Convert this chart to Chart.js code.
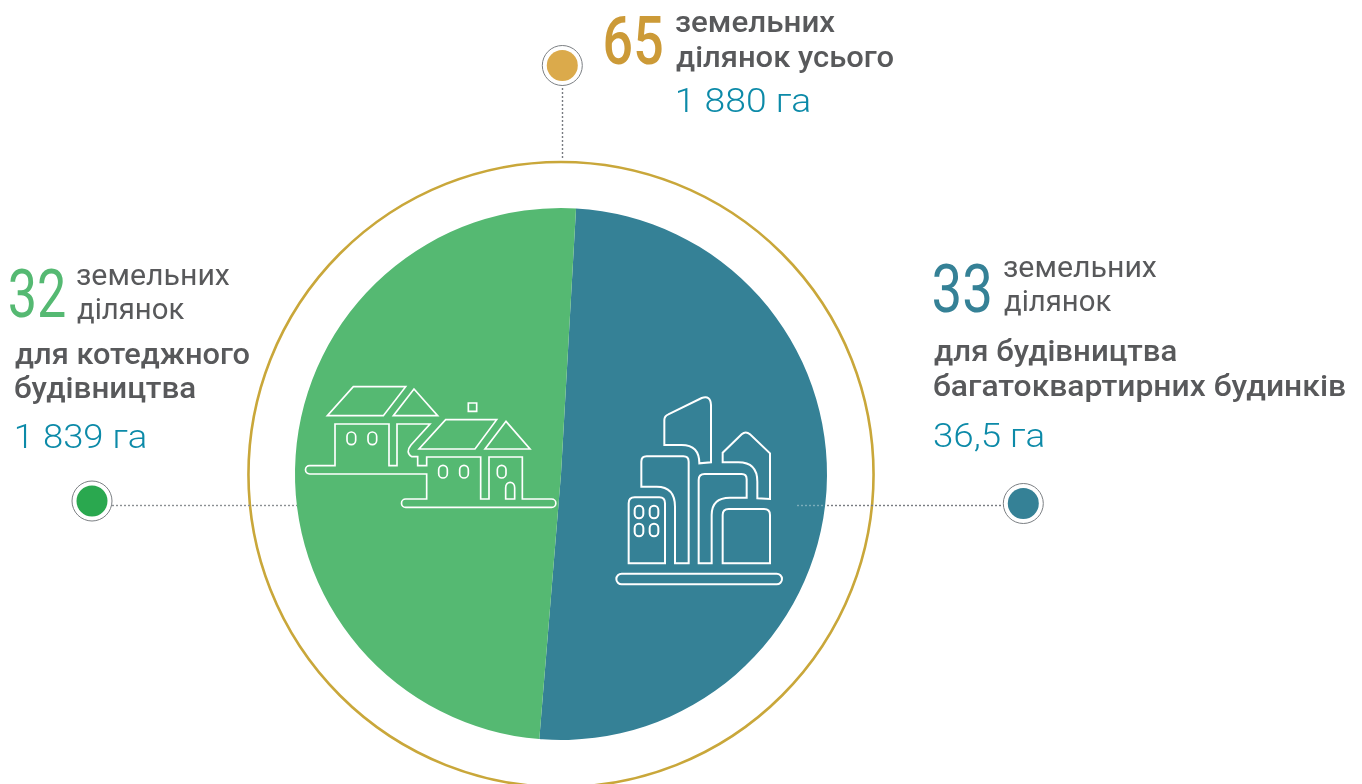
<!DOCTYPE html>
<html>
<head>
    <meta charset="utf-8">
    <title>Земельні ділянки</title>
    <script src="https://cdn.jsdelivr.net/npm/chart.js@4/dist/chart.umd.js"></script>
    <style>
    html, body { margin: 0; padding: 0; background: #fff; overflow: hidden; }
    canvas { display: block; }
    </style>
</head>
<body>
<canvas id="myChart" width="1362" height="784"></canvas>

<script>
    // slice shares (percent of the circle), counts are the printed ones
    const categories = ['для будівництва багатоквартирних будинків', 'для котеджного будівництва'];
    const shares = [50.4, 49.6];
    const sliceColors = ['#358196', '#55b972'];

    const totalCount = '65';
    const flatsCount = '33';
    const cottageCount = '32';
    const totalLines = ['земельних', 'ділянок усього'];
    const plotLines = ['земельних', 'ділянок'];
    const cottageLines = ['для котеджного', 'будівництва'];
    const flatsLines = ['для будівництва', 'багатоквартирних будинків'];
    const totalArea = '1 880 га';
    const cottageArea = '1 839 га';
    const flatsArea = '36,5 га';

    const GREY = '#58595b';
    const BLUE = '#0c8aa8';
    const NUM = '400 67px Roboto';
    const REG = '400 30px Roboto';
    const MED = '500 30px Roboto';
    const AREA = '300 34px Roboto';

    // text, x, baseline, width it has to fill, font, colour
    const textRows = [
        [totalCount, 605, 64, 57, '500 67px Roboto', '#cc9a37'],
        [totalLines[0], 676, 32, 159, MED, GREY],
        [totalLines[1], 676, 67, 217, MED, GREY],
        [totalArea, 677, 112, 133, AREA, BLUE],

        [cottageCount, 10, 317, 55, NUM, '#55b972'],
        [plotLines[0], 77, 285, 153, REG, GREY],
        [plotLines[1], 77, 319, 107, REG, GREY],
        [cottageLines[0], 15, 364, 234, MED, GREY],
        [cottageLines[1], 15, 398, 180, MED, GREY],
        [cottageArea, 16, 448, 130, AREA, BLUE],

        [flatsCount, 934, 312, 56, NUM, '#358196'],
        [plotLines[0], 1004, 277, 153, REG, GREY],
        [plotLines[1], 1004, 311, 107, REG, GREY],
        [flatsLines[0], 934, 361, 242, MED, GREY],
        [flatsLines[1], 934, 396, 411, MED, GREY],
        [flatsArea, 934, 447, 110, AREA, BLUE]
    ];

    // icons, traced at 3x from their top left corner
    const housePaths = [
        'M175 35 H332 L265 122 H97 Z',
        'M357 42 L428 122 H295 Z',
        'M120 272 V147 H282 V272 H306 V147 H405 L348 210 Q330 232 350 245 H368 V272 H395 V246 H557 V372 H582 V246 H682 V372 H770 A12.5 12.5 0 0 1 770 397 H332 A12.5 12.5 0 0 1 332 372 H395 V297 H44 A12.5 12.5 0 0 1 44 272 Z',
        'M632 372 V338 A13.5 16 0 0 1 659 338 V372 Z',
        'M520 84 H545 V109 H520 Z',
        'M452 134 H605 L540 222 H372 Z',
        'M633 139 L705 222 H570 Z'
    ];
    const houseWindows = [[169, 190], [232, 190], [444, 290], [507, 290], [620, 290]];
    const cityPaths = [
        'M35 551 H500 A16 16 0 0 1 500 583 H35 A16 16 0 0 1 35 551 Z',
        'M56 520 V340 Q56 322 74 322 H148 Q165 322 165 340 V520 Z',
        'M195 520 V350 Q195 290 140 290 H94 V215 Q94 199 110 199 H220 Q236 199 236 215 V520 Z',
        'M266 520 V270 Q266 252 284 252 H395 Q410 252 410 268 V323 H360 Q305 323 305 375 V520 Z',
        'M338 520 V375 Q338 357 356 357 H462 Q480 357 480 375 V520 Z',
        'M163 165 V90 Q163 78 175 73 L275 24 Q302 15 303 45 V217 L268 220 Q268 165 215 165 Z',
        'M338 217 V188 L395 133 Q407 122 420 133 L480 190 V327 L442 325 V275 Q442 217 385 217 Z'
    ];
    const cityWindows = [[87, 366], [132, 366], [87, 420], [132, 420]];

    function drawLine(ctx, x1, y1, x2, y2, color) {
        ctx.save();
        ctx.strokeStyle = color;
        ctx.lineWidth = 1.4;
        ctx.setLineDash([2, 2]);
        ctx.beginPath();
        ctx.moveTo(x1, y1);
        ctx.lineTo(x2, y2);
        ctx.stroke();
        ctx.restore();
    }

    function drawDot(ctx, x, y, color) {
        ctx.save();
        ctx.beginPath();
        ctx.arc(x, y, 20, 0, Math.PI * 2);
        ctx.fillStyle = '#fff';
        ctx.fill();
        ctx.strokeStyle = '#7b7f83';
        ctx.lineWidth = 1;
        ctx.stroke();
        ctx.beginPath();
        ctx.arc(x, y, 15.5, 0, Math.PI * 2);
        ctx.fillStyle = color;
        ctx.fill();
        ctx.restore();
    }

    function drawIcon(ctx, x, y, paths, windows, rx, ry, w) {
        ctx.save();
        ctx.translate(x, y);
        ctx.scale(1 / 3, 1 / 3);
        ctx.strokeStyle = '#fff';
        ctx.lineWidth = w;
        ctx.lineJoin = 'miter';
        paths.forEach(function (d) { ctx.stroke(new Path2D(d)); });
        windows.forEach(function (p) {
            ctx.beginPath();
            ctx.roundRect(p[0] - rx, p[1] - ry, rx * 2, ry * 2, rx);
            ctx.stroke();
        });
        ctx.restore();
    }

    // ring, leader lines and dots go under the pie, icons and texts over it
    const decorPlugin = {
        id: 'decor',
        beforeDatasetsDraw(chart) {
            const ctx = chart.ctx;
            const arc = chart.getDatasetMeta(0).data[0];
            ctx.save();
            ctx.beginPath();
            ctx.arc(arc.x, arc.y + 0.5, arc.outerRadius * 1.175, 0, Math.PI * 2);
            ctx.strokeStyle = '#c9a73a';
            ctx.lineWidth = 2.6;
            ctx.stroke();
            ctx.restore();
            drawLine(ctx, 562.5, 84, 562.5, 160, '#777b80');
            drawLine(ctx, 112, 505.5, 298, 505.5, '#8b8f93');
            drawLine(ctx, 827, 505.5, 1004, 505.5, '#777b80');
            drawDot(ctx, 562.3, 65.5, '#dbaa4b');
            drawDot(ctx, 92, 501, '#2aa84f');
            drawDot(ctx, 1023.3, 503.5, '#358196');
        },
        afterDatasetsDraw(chart) {
            const ctx = chart.ctx;
            drawLine(ctx, 797, 505.5, 827, 505.5, 'rgba(255,255,255,0.35)');
            drawIcon(ctx, 295, 375, housePaths, houseWindows, 13, 19, 5);
            drawIcon(ctx, 610, 390, cityPaths, cityWindows, 13, 19, 6);
            textRows.forEach(function (row) {
                ctx.save();
                ctx.font = row[4];
                ctx.fillStyle = row[5];
                ctx.textBaseline = 'alphabetic';
                ctx.textAlign = 'left';
                const box = ctx.measureText(row[0]);
                const drawn = box.actualBoundingBoxRight + box.actualBoundingBoxLeft;
                ctx.translate(row[1], row[2]);
                ctx.scale(row[3] / drawn, 1);
                ctx.fillText(row[0], box.actualBoundingBoxLeft, 0);
                ctx.restore();
            });
        }
    };

    const ctx = document.getElementById('myChart').getContext('2d');
    const myChart = new Chart(ctx, {
        type: 'pie',
        data: {
            labels: categories,
            datasets: [{
                data: shares,
                backgroundColor: sliceColors,
                borderWidth: 0
            }]
        },
        options: {
            responsive: false,
            animation: false,
            rotation: 3.24,
            layout: { padding: { left: 295, right: 535, top: 208, bottom: 44 } },
            events: [],
            plugins: {
                legend: { display: false },
                tooltip: { enabled: false }
            }
        },
        plugins: [decorPlugin]
    });
</script>
</body>
</html>
